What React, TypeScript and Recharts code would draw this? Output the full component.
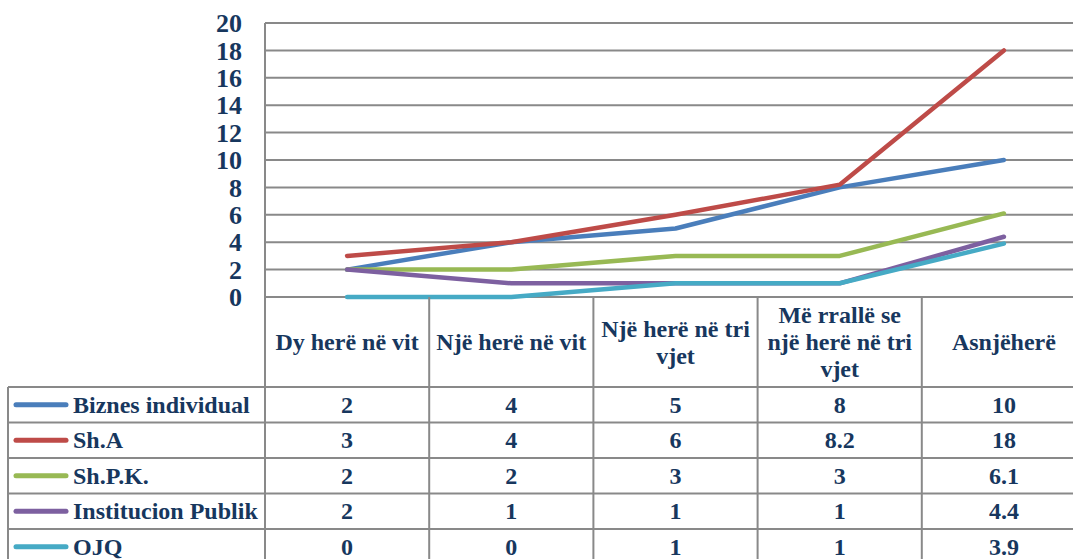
import React from "react";
import { LineChart, Line, XAxis, YAxis, CartesianGrid } from "recharts";

const categories = [
  "Dy herë në vit",
  "Një herë në vit",
  "Një herë në tri vjet",
  "Më rrallë se një herë në tri vjet",
  "Asnjëherë",
];
const categoryLines = [
  ["Dy herë në vit"],
  ["Një herë në vit"],
  ["Një herë në tri", "vjet"],
  ["Më rrallë se", "një herë në tri", "vjet"],
  ["Asnjëherë"],
];
const biznesIndividual = [2, 4, 5, 8, 10];
const shA = [3, 4, 6, 8.2, 18];
const shPK = [2, 2, 3, 3, 6.1];
const institucionPublik = [2, 1, 1, 1, 4.4];
const ojq = [0, 0, 1, 1, 3.9];
const yTicks = [0, 2, 4, 6, 8, 10, 12, 14, 16, 18, 20];

const series = [
  { key: "biznes", name: "Biznes individual", values: biznesIndividual, color: "#4A7EBB" },
  { key: "sha", name: "Sh.A", values: shA, color: "#BE4B48" },
  { key: "shpk", name: "Sh.P.K.", values: shPK, color: "#98B954" },
  { key: "inst", name: "Institucion Publik", values: institucionPublik, color: "#7D60A0" },
  { key: "ojq", name: "OJQ", values: ojq, color: "#46AAC5" },
];

const data = categories.map((c, i) => {
  const row: any = { category: c };
  series.forEach((s) => (row[s.key] = s.values[i]));
  return row;
});

const CHART_W = 1086;
const CHART_H = 559;
const PLOT_LEFT = 265;
const TOP = 23;
const PLOT_BOTTOM = 297;
const BAND = (CHART_W - PLOT_LEFT) / categories.length;
const HEADER_H = 90;
const ROW_H = 35.5;
const TABLE_LEFT = 8;
const GRID = "#898989";
const TEXT = "#17375E";
const FONT = "'Liberation Serif','Times New Roman',serif";

function TableTick(props: any) {
  const { x, y, payload } = props;
  const i = payload.index;
  const left = x - BAND / 2;
  const right = x + BAND / 2;
  const headerTop = y;
  const headerMid = headerTop + HEADER_H / 2;
  const rowsTop = headerTop + HEADER_H;
  const lines = categoryLines[i];
  const lh = 27;
  const bottom = rowsTop + ROW_H * (series.length + 1);
  const els: any[] = [];
  lines.forEach((ln, k) => {
    const by = headerMid + 8 + (k - (lines.length - 1) / 2) * lh;
    els.push(
      <text key={"h" + k} x={x} y={by} textAnchor="middle" fontFamily={FONT} fontWeight="bold" fontSize={24} fill={TEXT}>
        {ln}
      </text>
    );
  });
  els.push(<line key="vl" x1={left} x2={left} y1={headerTop} y2={bottom} stroke={GRID} strokeWidth={2} />);
  if (i === categories.length - 1) {
    els.push(<line key="vr" x1={right} x2={right} y1={headerTop} y2={bottom} stroke={GRID} strokeWidth={2} />);
  }
  for (let r = 0; r <= series.length; r++) {
    const ly = rowsTop + r * ROW_H;
    els.push(<line key={"hl" + r} x1={left} x2={right} y1={ly} y2={ly} stroke={GRID} strokeWidth={2} />);
  }
  series.forEach((s, r) => {
    const cy = rowsTop + r * ROW_H + ROW_H / 2;
    els.push(
      <text key={"v" + r} x={x} y={cy + 8} textAnchor="middle" fontFamily={FONT} fontWeight="bold" fontSize={24} fill={TEXT}>
        {String(s.values[i])}
      </text>
    );
  });
  if (i === 0) {
    els.push(<line key="tl" x1={TABLE_LEFT} x2={TABLE_LEFT} y1={rowsTop} y2={bottom} stroke={GRID} strokeWidth={2} />);
    for (let r = 0; r <= series.length; r++) {
      const ly = rowsTop + r * ROW_H;
      els.push(<line key={"lhl" + r} x1={TABLE_LEFT} x2={left} y1={ly} y2={ly} stroke={GRID} strokeWidth={2} />);
    }
    series.forEach((s, r) => {
      const cy = rowsTop + r * ROW_H + ROW_H / 2;
      els.push(
        <line key={"sw" + r} x1={16} x2={66} y1={cy} y2={cy} stroke={s.color} strokeWidth={5} strokeLinecap="round" />
      );
      els.push(
        <text key={"n" + r} x={73} y={cy + 8} textAnchor="start" fontFamily={FONT} fontWeight="bold" fontSize={24} fill={TEXT}>
          {s.name}
        </text>
      );
    });
  }
  return <g>{els}</g>;
}

export default function App() {
  return (
    <div style={{ position: "absolute", left: 0, top: 0, width: 1073, height: 559, overflow: "hidden", background: "#fff" }}>
      <LineChart width={CHART_W} height={CHART_H} data={data} margin={{ top: TOP, right: 0, bottom: 0, left: 0 }}>
        <CartesianGrid vertical={false} stroke={GRID} strokeWidth={2} />
        <XAxis
          dataKey="category"
          interval={0}
          axisLine={false}
          tickLine={false}
          tickSize={0}
          tickMargin={0}
          padding={{ left: BAND / 2, right: BAND / 2 }}
          height={CHART_H - PLOT_BOTTOM}
          tick={<TableTick />}
        />
        <YAxis
          domain={[0, 20]}
          ticks={yTicks}
          width={PLOT_LEFT}
          interval={0}
          tickLine={false}
          tickSize={0}
          tickMargin={23}
          axisLine={{ stroke: GRID, strokeWidth: 2 }}
          tick={{ fontFamily: FONT, fontSize: 26, fontWeight: 700, fill: TEXT }}
        />
        {series.map((s) => (
          <Line
            key={s.key}
            dataKey={s.key}
            name={s.name}
            stroke={s.color}
            strokeWidth={4.5}
            strokeLinecap="round"
            strokeLinejoin="round"
            dot={false}
            activeDot={false}
            type="linear"
            isAnimationActive={false}
          />
        ))}
      </LineChart>
    </div>
  );
}
